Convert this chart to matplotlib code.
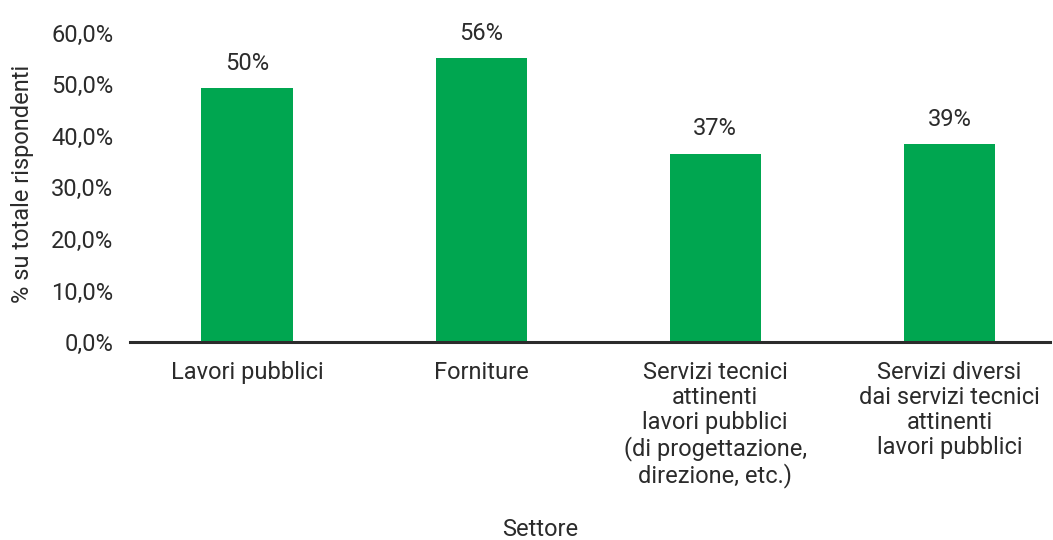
#!/usr/bin/env python3

import matplotlib
matplotlib.use('Agg')
import matplotlib.pyplot as plt
import numpy as np

# data
categories = [
    'Lavori pubblici',
    'Forniture',
    'Servizi tecnici\nattinenti\nlavori pubblici\n(di progettazione,\ndirezione, etc.)',
    'Servizi diversi\ndai servizi tecnici\nattinenti\nlavori pubblici',
]
values = [49.3, 55.1, 36.5, 38.4]
value_labels = ['50%', '56%', '37%', '39%']
yticks = [0, 10, 20, 30, 40, 50, 60]

GREEN = '#00A650'
TEXT = '#2b2b2b'
FS = 17

plt.rcParams['font.family'] = ['Roboto', 'DejaVu Sans']
plt.rcParams['font.size'] = FS
plt.rcParams['text.color'] = TEXT

fig = plt.figure(figsize=(10.53, 5.4), dpi=100)
ax = fig.add_axes([0.1235, 0.3667, 0.8737, 0.5723])

ind = np.arange(len(categories))
ax.bar(ind, values, width=0.39, color=GREEN)

for x, v, lab in zip(ind, values, value_labels):
    ax.annotate(lab, (x, v), xytext=(0, 18), textcoords='offset points',
                ha='center', va='center', color=TEXT)

ax.set_xlim(-0.5, 3.43)
ax.set_ylim(0, 60)
ax.set_yticks(yticks)
ax.set_yticklabels(['{:.1f}%'.format(t).replace('.', ',') for t in yticks])
ax.set_xticks(ind)
ax.set_xticklabels(categories, linespacing=1.1, va='top')

ax.tick_params(axis='both', length=0, colors=TEXT, labelsize=FS)
ax.tick_params(axis='y', pad=12)
ax.tick_params(axis='x', pad=14)

for side in ['top', 'right', 'left']:
    ax.spines[side].set_visible(False)
ax.spines['bottom'].set_color(TEXT)
ax.spines['bottom'].set_linewidth(2.2)

ax.set_ylabel('% su totale rispondenti', color=TEXT)
ax.yaxis.set_label_coords(-0.104, 0.51)
fig.text(0.513, 0.02, 'Settore', ha='center', va='center', color=TEXT, fontsize=FS)

fig.savefig('out.png', dpi=100)
